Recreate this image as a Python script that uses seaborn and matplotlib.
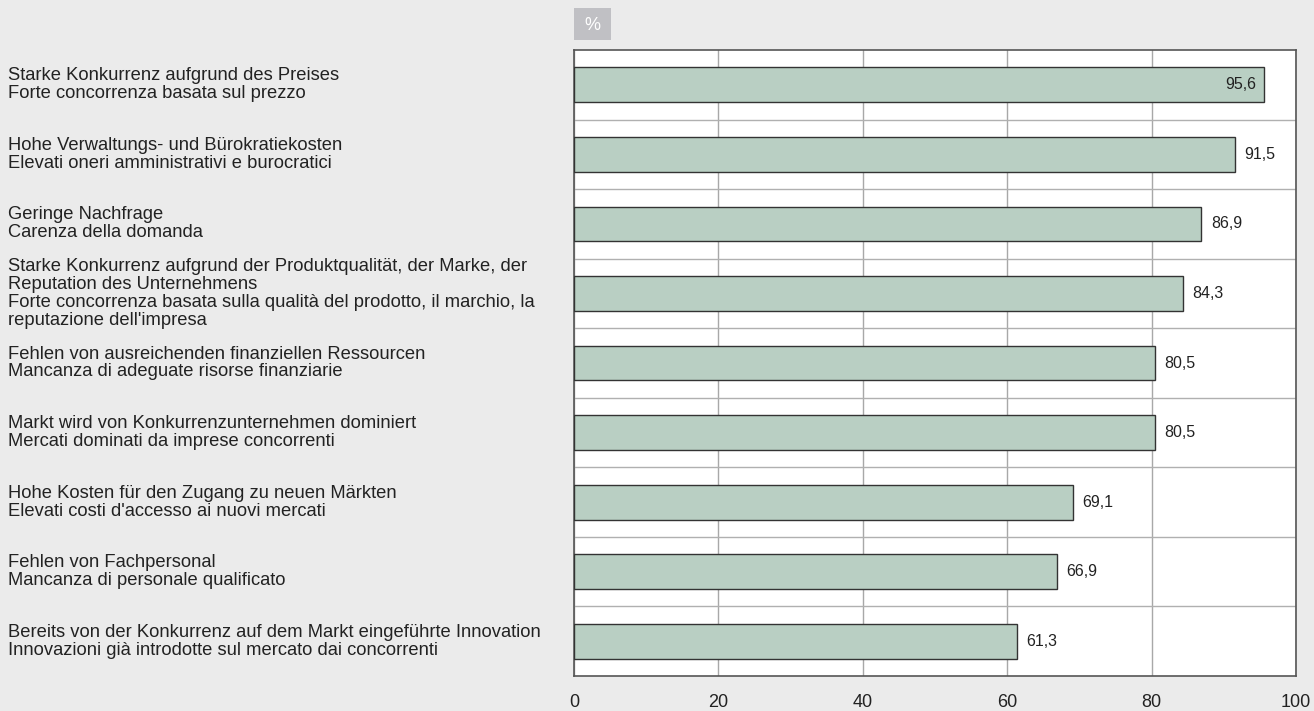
import matplotlib.pyplot as plt
import matplotlib.transforms as mtransforms
from matplotlib.patches import Rectangle
import numpy as np
import pandas as pd
import seaborn as sns

# Data
labels = [
    "Starke Konkurrenz aufgrund des Preises\nForte concorrenza basata sul prezzo",
    "Hohe Verwaltungs- und Bürokratiekosten\nElevati oneri amministrativi e burocratici",
    "Geringe Nachfrage\nCarenza della domanda",
    "Starke Konkurrenz aufgrund der Produktqualität, der Marke, der\nReputation des Unternehmens\n"
    "Forte concorrenza basata sulla qualità del prodotto, il marchio, la\nreputazione dell'impresa",
    "Fehlen von ausreichenden finanziellen Ressourcen\nMancanza di adeguate risorse finanziarie",
    "Markt wird von Konkurrenzunternehmen dominiert\nMercati dominati da imprese concorrenti",
    "Hohe Kosten für den Zugang zu neuen Märkten\nElevati costi d'accesso ai nuovi mercati",
    "Fehlen von Fachpersonal\nMancanza di personale qualificato",
    "Bereits von der Konkurrenz auf dem Markt eingeführte Innovation\n"
    "Innovazioni già introdotte sul mercato dai concorrenti",
]
values = [95.6, 91.5, 86.9, 84.3, 80.5, 80.5, 69.1, 66.9, 61.3]
x_ticks = [0, 20, 40, 60, 80, 100]

df = pd.DataFrame({"cat": [f"c{i}" for i in range(len(values))], "value": values})

bg = "#ebebeb"
bar_color = "#b9cfc3"

sns.set_style("white")
plt.rcParams["font.family"] = ["Liberation Sans", "DejaVu Sans"]

fig = plt.figure(figsize=(13.14, 7.11), dpi=100, facecolor=bg)
ax = fig.add_axes([574 / 1314, 1 - 676 / 711, (1296 - 574) / 1314, (676 - 50) / 711])
ax.set_facecolor("white")

sns.barplot(
    data=df, x="value", y="cat", orient="h", color=bar_color, saturation=1,
    width=0.5, edgecolor="#333333", linewidth=1.0, ax=ax, zorder=3,
)

ax.set_xlim(0, 100)
ax.set_ylim(len(values) - 0.5, -0.5)
ax.set_xticks(x_ticks)
ax.set_xticklabels([str(t) for t in x_ticks], fontsize=13, color="#222222")
ax.tick_params(axis="x", length=0, pad=13)
ax.set_yticks([])
ax.set_yticks(np.arange(0.5, len(values) - 0.5, 1), minor=True)
ax.tick_params(axis="y", which="minor", length=0)
ax.set_xlabel("")
ax.set_ylabel("")

ax.grid(axis="x", which="major", color="#a8a8a8", linewidth=1, zorder=0)
ax.grid(axis="y", which="minor", color="#b0b0b0", linewidth=1, zorder=0)
ax.set_axisbelow(True)
for s in ax.spines.values():
    s.set_color("#555555")
    s.set_linewidth(1.2)

# value labels
for i, v in enumerate(values):
    txt = f"{v:.1f}".replace(".", ",")
    if v > 93:
        ax.text(v - 1.1, i, txt, ha="right", va="center", fontsize=11.5, color="#222222", zorder=4)
    else:
        ax.text(v + 1.3, i, txt, ha="left", va="center", fontsize=11.5, color="#222222", zorder=4)

# category labels on the left
trans = mtransforms.blended_transform_factory(fig.transFigure, ax.transData)
for i, lab in enumerate(labels):
    ax.text(8 / 1314, i, lab, transform=trans, ha="left", va="center",
            fontsize=13.2, color="#222222", linespacing=1.07, clip_on=False)

# "%" box
fig.patches.append(Rectangle((574 / 1314, 1 - 40 / 711), 37 / 1314, 32 / 711,
                             transform=fig.transFigure, facecolor="#c0c0c4",
                             edgecolor="none"))
fig.text(592.5 / 1314, 1 - 25 / 711, "%", ha="center", va="center",
         fontsize=13, color="white")

fig.savefig("out.png", dpi=100, facecolor=bg)
